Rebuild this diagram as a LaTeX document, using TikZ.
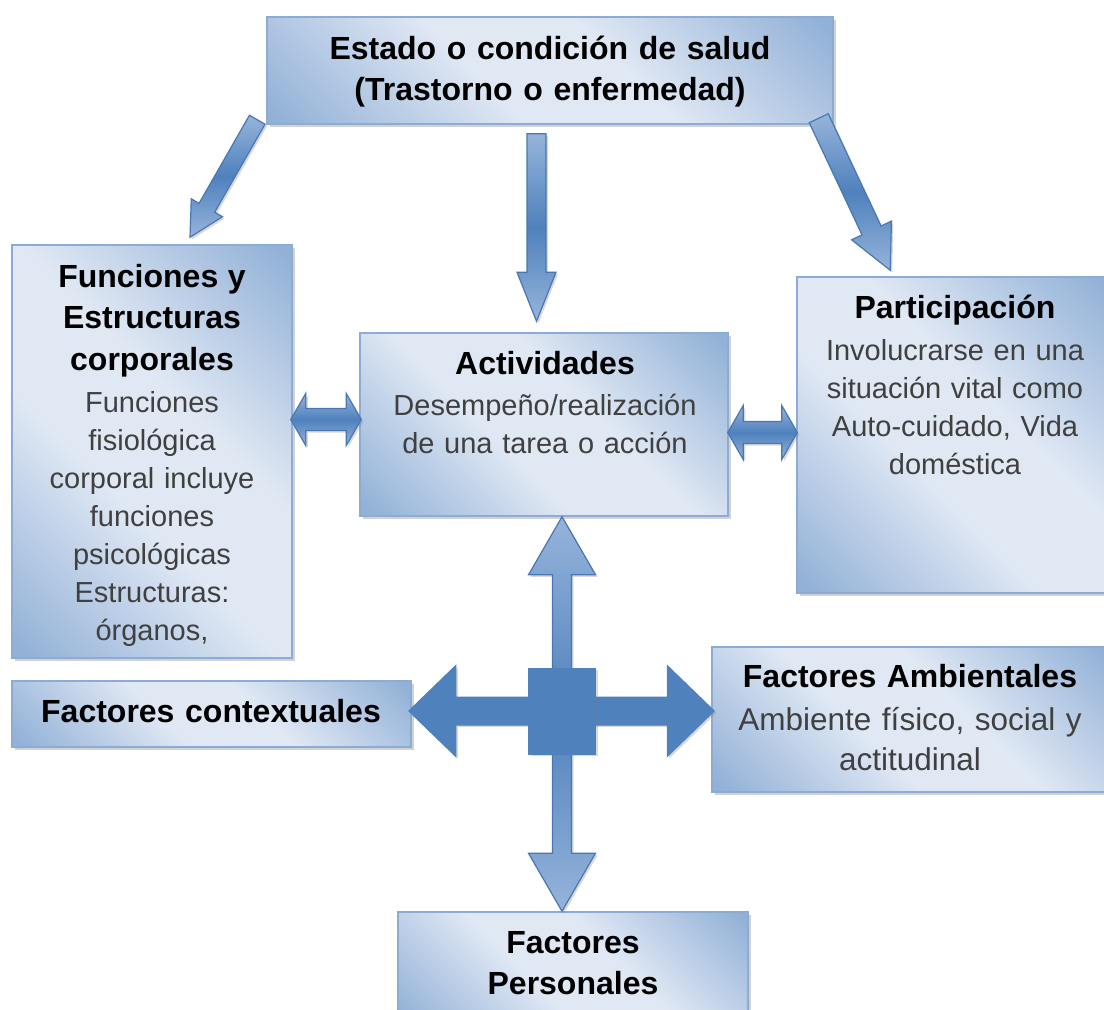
\documentclass[tikz,border=0pt]{standalone}
\usepackage{fontspec}
\setmainfont{Liberation Sans}
\usetikzlibrary{calc,fit,shadows}

\definecolor{boxline}{RGB}{141,172,213}
\definecolor{boxpale}{RGB}{224,232,244}
\definecolor{boxdeep}{RGB}{146,177,215}
\definecolor{arrowdark}{RGB}{79,129,189}
\definecolor{arrowlight}{RGB}{150,180,218}
\definecolor{arrowline}{RGB}{72,119,178}
\definecolor{bodytext}{RGB}{64,64,64}

\pgfdeclarehorizontalshading{panelshade}{100bp}{color(0bp)=(boxdeep); color(16bp)=(boxdeep);
  color(42bp)=(boxpale); color(58bp)=(boxpale); color(84bp)=(boxdeep); color(100bp)=(boxdeep)}

\tikzset{
  panel/.style={rectangle, draw=boxline, line width=1.5pt, inner sep=0pt,
    shading=panelshade, shading angle=45,
    drop shadow={opacity=.35, shadow xshift=3pt, shadow yshift=-3pt}},
  ttl/.style={anchor=base, align=center, inner sep=0pt, text=black,
    font=\fontsize{32}{41.5}\selectfont\bfseries},
  txt/.style={anchor=base, align=center, inner sep=0pt, text=bodytext,
    font=\fontsize{29}{38}\selectfont},
  barrow/.style={draw=arrowline, line width=1.2pt, line join=miter,
    top color=arrowlight, bottom color=arrowlight, middle color=arrowdark,
    drop shadow={opacity=.3, shadow xshift=2pt, shadow yshift=-2pt}},
  crossbar/.style={draw=arrowdark, fill=arrowdark, line width=1pt,
    drop shadow={opacity=.3, shadow xshift=2pt, shadow yshift=-2pt}},
  hub/.style={rectangle, draw=arrowdark, fill=arrowdark, line width=1pt,
    minimum width=67pt, minimum height=86pt, inner sep=0pt,
    drop shadow={opacity=.3, shadow xshift=2pt, shadow yshift=-2pt}}
}

% bold heading inside a body node
\newcommand{\hd}[1]{{\fontsize{32}{38}\selectfont\bfseries\color{black}#1}}

% style, tail, tip, shaft half width, head half width, head length
\newcommand{\blockarrow}[6]{%
  \coordinate (bah) at ($(#3)!#6!(#2)$);
  \draw[#1] ($(#2)!#4!90:(#3)$) -- ($(bah)!#4!-90:(#2)$) -- ($(bah)!#5!-90:(#2)$)
    -- (#3) -- ($(bah)!#5!90:(#2)$) -- ($(bah)!#4!90:(#2)$) -- ($(#2)!#4!-90:(#3)$) -- cycle;
}

% style, end, end, shaft half width, head half width, head length
\newcommand{\dblarrow}[6]{%
  \coordinate (dah) at ($(#2)!#6!(#3)$);
  \coordinate (dak) at ($(#3)!#6!(#2)$);
  \draw[#1] (#2) -- ($(dah)!#5!90:(#3)$) -- ($(dah)!#4!90:(#3)$)
    -- ($(dak)!#4!-90:(#2)$) -- ($(dak)!#5!-90:(#2)$) -- (#3)
    -- ($(dak)!#5!90:(#2)$) -- ($(dak)!#4!90:(#2)$)
    -- ($(dah)!#4!-90:(#3)$) -- ($(dah)!#5!-90:(#3)$) -- cycle;
}

\begin{document}
\begin{tikzpicture}[x=1pt, y=-1pt]
\fill[white] (0,0) rectangle (1104,1010);
\useasboundingbox (0,0) rectangle (1104,1010);

% boxes
\node[panel, fit={(267,17) (833,124)}] (estado) {};
\node[panel, fit={(12,245) (292,658)}] (func) {};
\node[panel, fit={(360,333) (728,516)}] (activ) {};
\node[panel, fit={(797,277) (1112,593)}] (part) {};
\node[panel, fit={(12,681) (411,747)}] (context) {};
\node[panel, fit={(712,647) (1112,792)}] (ambient) {};
\node[panel, fit={(398,912) (748,1025)}] (pers) {};

% texts
\node[ttl, text width=540pt] (estado-t) at (550,59) {Estado o condición de salud\\(Trastorno o enfermedad)};
\node[txt, text width=270pt] (func-t) at (152,287) {\hd{Funciones y\\[3.5pt]Estructuras\\[3.5pt]corporales}\\[4pt]Funciones\\fisiológica\\corporal incluye\\funciones\\psicológicas\\Estructuras:\\órganos,};
\node[txt, text width=360pt] (activ-t) at (545,374) {\hd{Actividades}\\[3pt]Desempeño/realización\\de una tarea o acción};
\node[txt, text width=300pt] (part-t) at (955,318) {\hd{Participación}\\[4pt]Involucrarse en una\\situación vital como\\Auto-cuidado, Vida\\doméstica};
\node[ttl, text width=390pt] (context-t) at (211,722) {Factores contextuales};
\node[txt, text width=390pt, font=\fontsize{31.5}{40}\selectfont] (ambient-t) at (910,687) {\hd{Factores Ambientales}\\[3pt]Ambiente físico, social y\\actitudinal};
\node[ttl, text width=340pt] (pers-t) at (573,953) {Factores\\Personales};

% arrows from the top box
\coordinate (fl-s) at ($(estado.south west)+(-9,-5)$);
\coordinate (fl-e) at ($(func.north)+(38,-7)$);
\blockarrow{barrow}{fl-s}{fl-e}{9pt}{18pt}{34pt}
\coordinate (fm-s) at ($(estado.south)+(-13.5,9)$);
\coordinate (fm-e) at ($(activ.north)+(-7.5,-11)$);
\blockarrow{barrow}{fm-s}{fm-e}{9.5pt}{19.5pt}{49pt}
\coordinate (fr-s) at ($(estado.south east)+(-15,-6.5)$);
\coordinate (fr-e) at ($(part.north west)+(94,-6)$);
\blockarrow{barrow}{fr-s}{fr-e}{10.5pt}{22pt}{44pt}

% two-way arrows
\coordinate (lw-a) at ($(func.east |- activ.west)+(-2,-5)$);
\coordinate (lw-b) at ($(activ.west)+(2,-5)$);
\dblarrow{barrow}{lw-a}{lw-b}{11pt}{26pt}{15pt}
\coordinate (rw-a) at ($(activ.east)+(-1,8)$);
\coordinate (rw-b) at ($(part.west |- rw-a)+(1,0)$);
\dblarrow{barrow}{rw-a}{rw-b}{11pt}{27pt}{15.5pt}

% cross
\coordinate (hubc) at (562,711);
\coordinate (up) at (activ.south -| hubc);
\coordinate (dn) at (pers.north -| hubc);
\dblarrow{barrow}{up}{dn}{9.5pt}{33.5pt}{58pt}
\coordinate (lf) at ($(context.east |- hubc)+(-3,0)$);
\coordinate (rt) at ($(ambient.west |- hubc)+(3,0)$);
\dblarrow{crossbar}{lf}{rt}{14pt}{45.5pt}{47pt}
\node[hub] (hub) at (hubc) {};
\end{tikzpicture}
\end{document}
